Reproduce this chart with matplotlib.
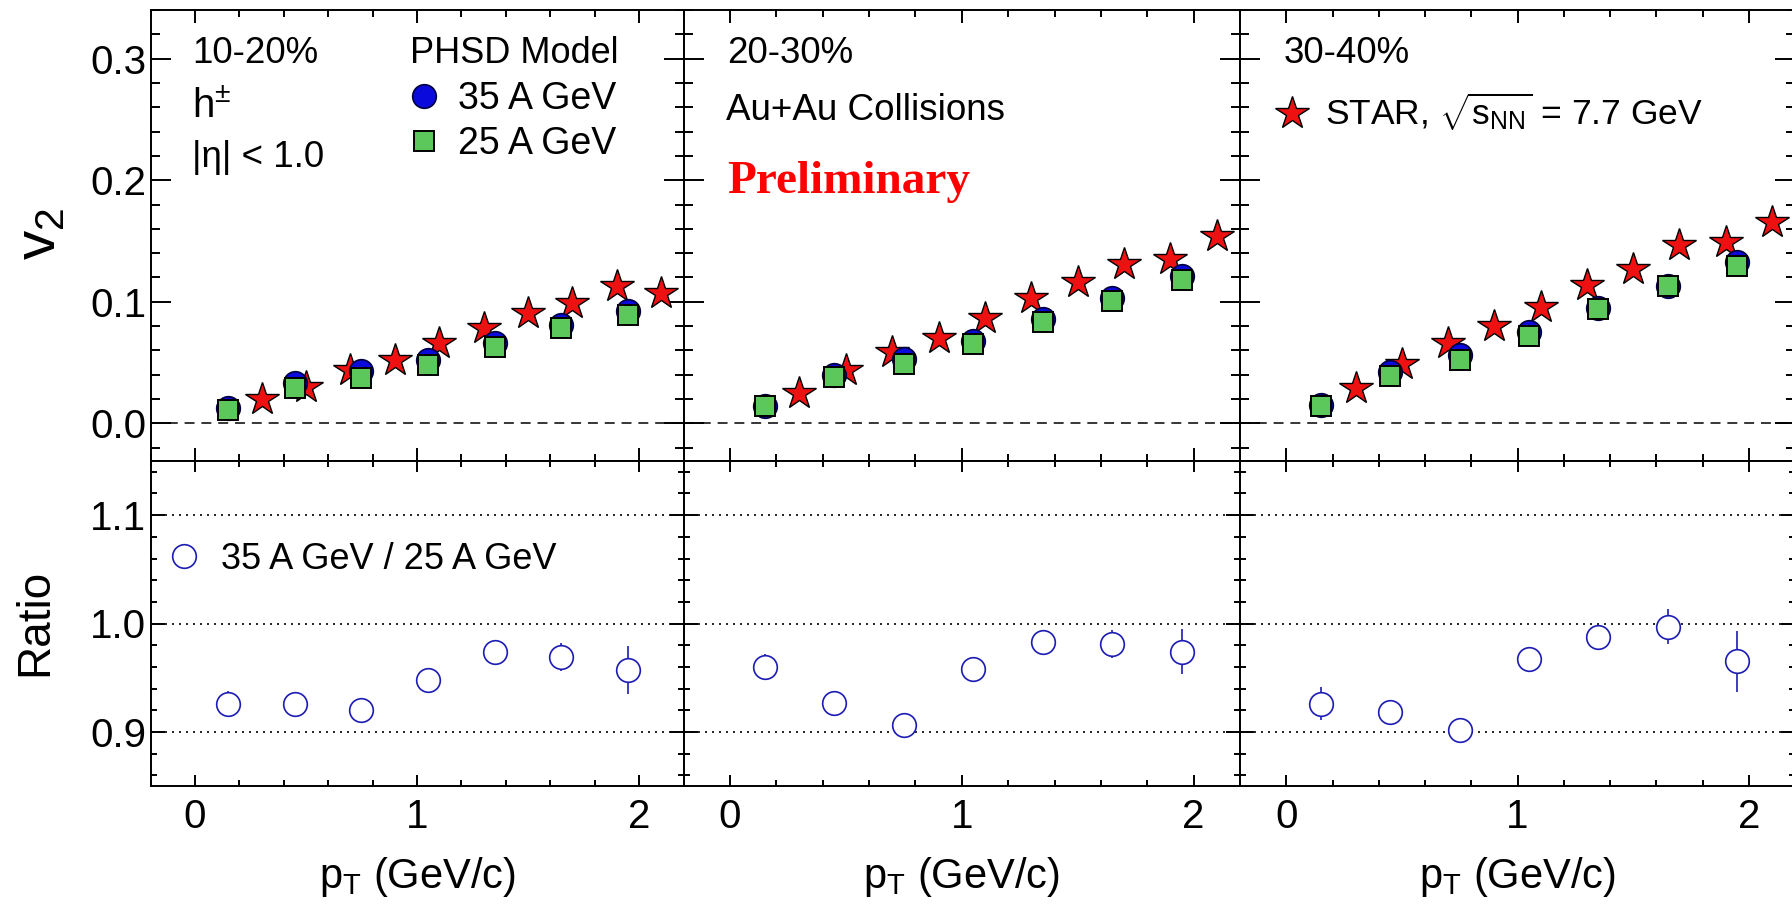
import matplotlib
matplotlib.use('Agg')
import matplotlib.pyplot as plt
from matplotlib.ticker import MultipleLocator, FormatStrFormatter

plt.rcParams['font.family'] = ['Liberation Sans', 'DejaVu Sans']
plt.rcParams['mathtext.fontset'] = 'custom'
plt.rcParams['mathtext.rm'] = 'Liberation Sans'
plt.rcParams['mathtext.it'] = 'Liberation Sans:italic'
plt.rcParams['mathtext.bf'] = 'Liberation Sans:bold'

# data
centralities = ['10-20%', '20-30%', '30-40%']
pt_model = [0.15, 0.45, 0.75, 1.05, 1.35, 1.65, 1.95]
pt_star = [0.3, 0.5, 0.7, 0.9, 1.1, 1.3, 1.5, 1.7, 1.9, 2.1]

v2_35 = [[0.013, 0.033, 0.043, 0.052, 0.066, 0.081, 0.092],
         [0.014, 0.040, 0.053, 0.068, 0.086, 0.103, 0.121],
         [0.015, 0.042, 0.056, 0.075, 0.095, 0.113, 0.133]]
v2_25 = [[0.011, 0.029, 0.037, 0.048, 0.063, 0.078, 0.089],
         [0.014, 0.038, 0.049, 0.065, 0.083, 0.101, 0.118],
         [0.014, 0.039, 0.052, 0.072, 0.094, 0.113, 0.129]]
v2_star = [[0.020, 0.030, 0.044, 0.052, 0.066, 0.078, 0.091, 0.099, 0.113, 0.107],
           [0.025, 0.044, 0.059, 0.070, 0.087, 0.103, 0.116, 0.131, 0.135, 0.154],
           [0.029, 0.049, 0.066, 0.080, 0.096, 0.114, 0.127, 0.147, 0.149, 0.166]]

ratio = [[0.926, 0.926, 0.920, 0.948, 0.974, 0.969, 0.957],
         [0.960, 0.927, 0.906, 0.958, 0.983, 0.981, 0.974],
         [0.926, 0.918, 0.902, 0.967, 0.988, 0.997, 0.965]]
ratio_err = [[0.012, 0.006, 0.006, 0.006, 0.008, 0.013, 0.022],
             [0.012, 0.006, 0.006, 0.006, 0.008, 0.013, 0.021],
             [0.015, 0.006, 0.006, 0.008, 0.010, 0.016, 0.028]]

W, H = 1792, 910
fig = plt.figure(figsize=(W / 100, H / 100), dpi=100)


def rect(x0, x1, y0, y1):
    return [x0 / W, 1 - y1 / H, (x1 - x0) / W, (y1 - y0) / H]


xedges = [(150.5, 683.5), (683.5, 1240), (1240, 1795)]
blue = '#0a0adc'
green = '#5cc85c'
red = '#ee1111'
rblue = '#1c1cb4'

for i in range(3):
    x0, x1 = xedges[i]
    ax = fig.add_axes(rect(x0, x1, 10, 461))
    axr = fig.add_axes(rect(x0, x1, 461, 786))

    # top: v2
    ax.plot(pt_star, v2_star[i], ls='none', marker='*', ms=25, mfc=red,
            mec='k', mew=1.0, label=r'STAR, $\sqrt{\mathrm{s}_{\rm NN}}$ = 7.7 GeV')
    l35, = ax.plot(pt_model, v2_35[i], ls='none', marker='o', ms=17, mfc=blue,
                   mec='#000040', mew=1.2)
    l25, = ax.plot(pt_model, v2_25[i], ls='none', marker='s', ms=14.5, mfc=green,
                   mec='k', mew=1.4)
    ax.axhline(0, color='k', lw=1.1, dashes=(6.5, 4.5))
    ax.set_xlim(-0.2, 2.2)
    ax.set_ylim(-0.031, 0.34)

    # bottom: ratio
    eb = axr.errorbar(pt_model, ratio[i], yerr=ratio_err[i], ls='none', marker='o',
                      ms=17, mfc='white', mec=rblue, mew=1.2, ecolor=rblue,
                      elinewidth=1.2, capsize=0)
    for yv in (0.9, 1.0, 1.1):
        axr.axhline(yv, color='k', lw=1.2, dashes=(1.2, 3.0), zorder=0.5)
    axr.set_xlim(-0.2, 2.2)
    axr.set_ylim(0.85, 1.15)

    for a in (ax, axr):
        a.xaxis.set_major_locator(MultipleLocator(1))
        a.xaxis.set_minor_locator(MultipleLocator(0.2))
        a.yaxis.set_minor_locator(MultipleLocator(0.02))
        a.tick_params(which='both', direction='in', top=True, right=True,
                      width=1.4, labelsize=29, pad=3)
        for s in a.spines.values():
            s.set_linewidth(1.4)
    ax.yaxis.set_major_locator(MultipleLocator(0.1))
    axr.yaxis.set_major_locator(MultipleLocator(0.1))
    ax.yaxis.set_major_formatter(FormatStrFormatter('%.1f'))
    axr.yaxis.set_major_formatter(FormatStrFormatter('%.1f'))
    ax.tick_params(axis='x', which='major', length=9.4)
    ax.tick_params(axis='x', which='minor', length=5)
    ax.tick_params(axis='y', which='major', length=14.4)
    ax.tick_params(axis='y', which='minor', length=6.5)
    axr.tick_params(axis='x', which='major', length=8, pad=9)
    axr.tick_params(axis='x', which='minor', length=4.5)
    axr.tick_params(axis='y', which='major', length=10)
    axr.tick_params(axis='y', which='minor', length=4.5)
    ax.tick_params(labelbottom=False)
    if i > 0:
        ax.tick_params(labelleft=False)
        axr.tick_params(labelleft=False)

    ax.text(0.078, 0.8825, centralities[i], transform=ax.transAxes, fontsize=26.5,
            va='baseline')
    fig.text((x0 + x1) / 2 / W, 1 - 888 / H, r'p$_{\rm T}$ (GeV/c)', fontsize=30,
             ha='center', va='baseline')

    if i == 0:
        ax.text(0.078, 1 - 108 / 451, r'h$^{\pm}$', transform=ax.transAxes,
                fontsize=29, va='baseline')
        ax.text(0.078, 1 - 157 / 451, '|η| < 1.0', transform=ax.transAxes,
                fontsize=26.5, va='baseline')
        ax.text(0.487, 0.8825, 'PHSD Model', transform=ax.transAxes, fontsize=26,
                va='baseline')
        ax.legend([l35, l25], ['35 A GeV', '25 A GeV'], loc='upper left',
                  bbox_to_anchor=(0.478, 0.8426), frameon=False, fontsize=27,
                  handlelength=1.0, handletextpad=0.41, labelspacing=0.24,
                  borderpad=0, borderaxespad=0, numpoints=1)
        axr.legend([eb[0]], ['35 A GeV / 25 A GeV'], loc='upper left',
                   bbox_to_anchor=(0.029, 0.751), frameon=False, fontsize=26,
                   handlelength=1.0, handletextpad=0.53, borderpad=0,
                   borderaxespad=0, numpoints=1)
    if i == 1:
        ax.text(0.0764, 1 - 110 / 451, 'Au+Au Collisions', transform=ax.transAxes,
                fontsize=26.5, va='baseline')
        ax.text(0.078, 0.594, 'Preliminary', transform=ax.transAxes, fontsize=34,
                va='baseline', color='#ff0000', fontweight='bold',
                family=['Liberation Serif', 'DejaVu Serif'])
    if i == 2:
        ax.legend(loc='upper left', bbox_to_anchor=(0.0613, 0.82), frameon=False,
                  fontsize=25.5, handlelength=1.0, handletextpad=0.45, borderpad=0,
                  borderaxespad=0, numpoints=1)

fig.text(40 / W, 1 - 234 / H, r'v$_2$', fontsize=42, rotation=90,
         ha='center', va='center')
fig.text(35 / W, 1 - 622 / H, 'Ratio', fontsize=33, rotation=90,
         ha='center', va='center')

fig.savefig('out.png', dpi=100)
